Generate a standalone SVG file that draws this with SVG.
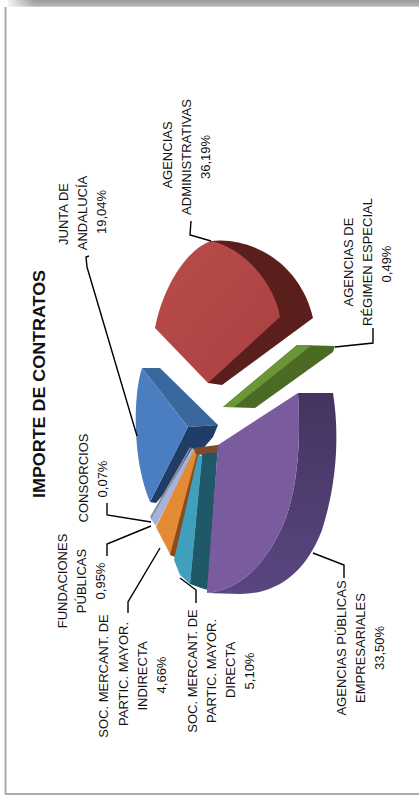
<svg xmlns="http://www.w3.org/2000/svg" width="419" height="796" viewBox="0 0 419 796">
<defs>
<linearGradient id="topShadow" x1="0" y1="0" x2="0" y2="1">
<stop offset="0" stop-color="#9a9a9a"/>
<stop offset="0.8" stop-color="#b4b4b4"/>
<stop offset="1" stop-color="#d8d8d8"/>
</linearGradient>
<linearGradient id="topFade" x1="0" y1="0" x2="1" y2="0">
<stop offset="0" stop-color="#ffffff" stop-opacity="1"/>
<stop offset="1" stop-color="#ffffff" stop-opacity="0"/>
</linearGradient>
<linearGradient id="purpleSide" x1="0" y1="0" x2="0" y2="1">
<stop offset="0" stop-color="#43345f"/>
<stop offset="1" stop-color="#5a4680"/>
</linearGradient>
<linearGradient id="redFace" x1="0" y1="0" x2="1" y2="1">
<stop offset="0" stop-color="#b84c4b"/>
<stop offset="1" stop-color="#a94140"/>
</linearGradient>
</defs>
<style>
.lbl{font-family:"Liberation Sans",Arial,sans-serif;font-size:13px;fill:#111;text-anchor:middle}
.ttl{font-family:"Liberation Sans",Arial,sans-serif;font-size:17px;font-weight:bold;fill:#111;text-anchor:middle}
.con{fill:none;stroke:#000;stroke-width:1.4;stroke-linejoin:miter}
</style>
<rect x="0" y="0" width="419" height="796" fill="#ffffff"/>
<g id="frame">
<rect x="8" y="0" width="411" height="7" fill="url(#topShadow)"/>
<rect x="4" y="0" width="30" height="7" fill="url(#topFade)"/>
<line x1="5.5" y1="7" x2="5.5" y2="794" stroke="#aaaaaa" stroke-width="2"/>
<line x1="5" y1="794" x2="419" y2="794" stroke="#aaaaaa" stroke-width="2"/>
</g>
<g id="title">
<text class="ttl" transform="translate(45,384) rotate(-90)" textLength="228" lengthAdjust="spacingAndGlyphs">IMPORTE DE CONTRATOS</text>
</g>
<g id="agencias-administrativas">
<path d="M211,241 C250,236 300,262 313,318 L222,385 L208,383 Z" fill="#5a1e1c"/>
<path d="M211,241 C185,250 162,290 155,328 L208,383 L280,317 C276,290 250,250 211,241 Z" fill="url(#redFace)"/>
<text class="lbl" transform="translate(172,155) rotate(-90)">AGENCIAS</text>
<text class="lbl" transform="translate(191,157) rotate(-90)">ADMINISTRATIVAS</text>
<text class="lbl" transform="translate(210,157) rotate(-90)">36,19%</text>
</g>
<g id="agencias-regimen-especial">
<path d="M223,407 L297,345 L335,346 L333,352 L255,408 Z" fill="#4b6b25"/>
<path d="M223,407 L297,345 L312,345 L234,407 Z" fill="#6a9638"/>
<text class="lbl" transform="translate(353,262) rotate(-90)">AGENCIAS DE</text>
<text class="lbl" transform="translate(372,262) rotate(-90)">RÉGIMEN ESPECIAL</text>
<text class="lbl" transform="translate(391,264) rotate(-90)">0,49%</text>
</g>
<g id="junta-andalucia">
<path d="M142,368 L160,368 L218,425 L188,427 Z" fill="#3a679e"/>
<path d="M188,427 L218,425 L213,437 L156,503 L150,502 Z" fill="#1f3d66"/>
<path d="M142,368 C133,395 132,460 150,502 L188,427 Z" fill="#4a7ec0"/>
<text class="lbl" transform="translate(68,214) rotate(-90)">JUNTA DE</text>
<text class="lbl" transform="translate(87,213) rotate(-90)">ANDALUCÍA</text>
<text class="lbl" transform="translate(106,212) rotate(-90)">19,04%</text>
</g>
<g id="consorcios">
<path d="M150,517 L152,520 L191,448 L190,447 Z" fill="#8a8f99"/>
<text class="lbl" transform="translate(88,478) rotate(-90)">CONSORCIOS</text>
<text class="lbl" transform="translate(107,479) rotate(-90)">0,07%</text>
</g>
<g id="fundaciones-publicas">
<path d="M151,519 L156,526 L195,450 L192,448 Z" fill="#a3b3da"/>
<text class="lbl" transform="translate(67,581) rotate(-90)">FUNDACIONES</text>
<text class="lbl" transform="translate(86,581) rotate(-90)">PÚBLICAS</text>
<text class="lbl" transform="translate(105,581) rotate(-90)">0,95%</text>
</g>
<g id="soc-indirecta">
<path d="M156,527 L171,556 L197,455 L194,450 Z" fill="#e38a34"/>
<path d="M170,555 L175,557 L200,456 L197,453 Z" fill="#8a4a1e"/>
<text class="lbl" transform="translate(108,676) rotate(-90)">SOC. MERCANT. DE</text>
<text class="lbl" transform="translate(128,674) rotate(-90)">PARTIC. MAYOR.</text>
<text class="lbl" transform="translate(147,676) rotate(-90)">INDIRECTA</text>
<text class="lbl" transform="translate(166,675) rotate(-90)">4,66%</text>
</g>
<g id="soc-directa">
<path d="M198,455 L174,560 L180,575 L190,584 L202,456 Z" fill="#3fa0be"/>
<path d="M200,452 L218,445 L208,590 L201,588 L190,584 L202,456 Z" fill="#1f5868"/>
<path d="M193,448 L218,445 L218,452 L198,455 Z" fill="#7d4a2e"/>
<text class="lbl" transform="translate(197,671) rotate(-90)">SOC. MERCANT. DE</text>
<text class="lbl" transform="translate(216,671) rotate(-90)">PARTIC. MAYOR.</text>
<text class="lbl" transform="translate(235,670) rotate(-90)">DIRECTA</text>
<text class="lbl" transform="translate(254,671) rotate(-90)">5,10%</text>
</g>
<g id="agencias-publicas-empresariales">
<path d="M298,393 L333,393 C339,430 338,480 322,530 C305,575 275,594 240,594 L207,593 C240,590 265,565 283,525 C298,490 301,440 298,393 Z" fill="url(#purpleSide)"/>
<path d="M218,445 L298,393 C301,440 298,490 283,525 C265,565 240,590 207,593 L207,590 Z" fill="#7a5c9e"/>
<text class="lbl" transform="translate(346,648) rotate(-90)">AGENCIAS PÚBLICAS</text>
<text class="lbl" transform="translate(365,648) rotate(-90)">EMPRESARIALES</text>
<text class="lbl" transform="translate(384,648) rotate(-90)">33,50%</text>
</g>
<g id="connectors">
<path class="con" d="M191,221 L190,235 L211,241"/>
<path class="con" d="M89,256 L86,257 L87,267 L137,436"/>
<path class="con" d="M373,328 L373,343 L335,347"/>
<path class="con" d="M107,503 L107,515 L151,522"/>
<path class="con" d="M107,556 L107,544 L151,526"/>
<path class="con" d="M128,613 L128,602 L160,548"/>
<path class="con" d="M196,603 L196,590 L180,578"/>
<path class="con" d="M344,578 L344,565 L313,553"/>
</g>
</svg>
